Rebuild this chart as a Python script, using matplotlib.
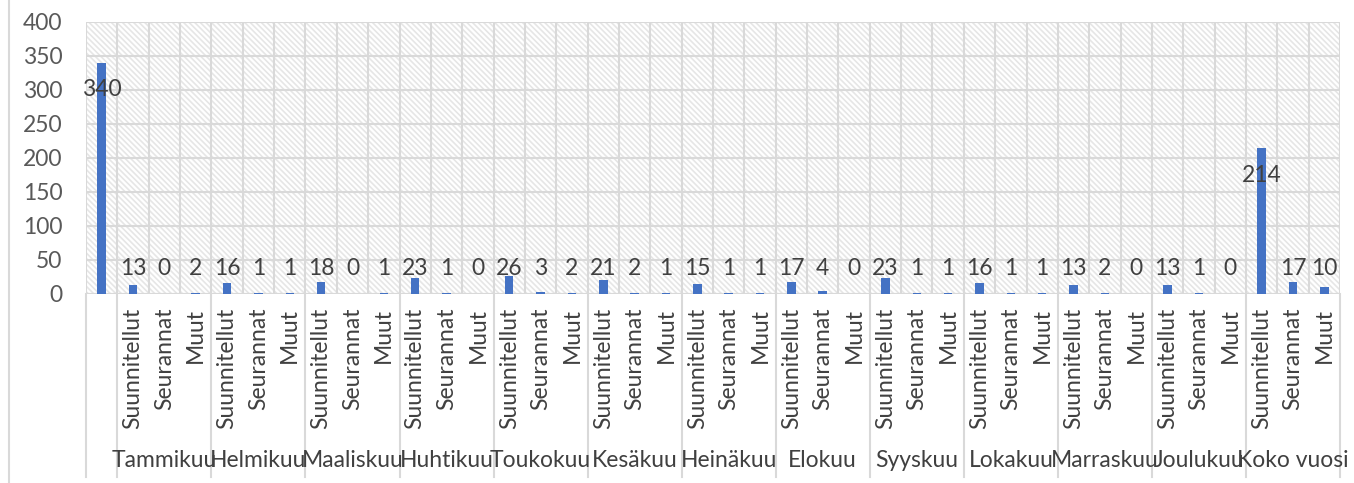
import numpy as np
import matplotlib.pyplot as plt
from matplotlib.patches import Rectangle
from matplotlib.lines import Line2D
from matplotlib.transforms import blended_transform_factory

# Data
first_value = 340
months = ['Tammikuu', 'Helmikuu', 'Maaliskuu', 'Huhtikuu', 'Toukokuu', 'Kesäkuu',
          'Heinäkuu', 'Elokuu', 'Syyskuu', 'Lokakuu', 'Marraskuu', 'Joulukuu', 'Koko vuosi']
sub_labels = ['Suunnitellut', 'Seurannat', 'Muut']
suunnitellut = [13, 16, 18, 23, 26, 21, 15, 17, 23, 16, 13, 13, 214]
seurannat = [0, 1, 0, 1, 3, 2, 1, 4, 1, 1, 2, 1, 17]
muut = [2, 1, 1, 0, 2, 1, 1, 0, 1, 1, 0, 0, 10]

# Build flat category list: first unnamed category + month x (3 sub categories)
values = [first_value]
cat_labels = ['']
for s, se, m in zip(suunnitellut, seurannat, muut):
    values += [s, se, m]
    cat_labels += sub_labels
values = np.array(values)
x = np.arange(len(values))

plt.rcParams['font.family'] = ['Lato', 'DejaVu Sans']
plt.rcParams['hatch.linewidth'] = 1.2
plt.rcParams['hatch.color'] = '#e6e6e6'

W, H = 1354, 483
fig = plt.figure(figsize=(W / 100, H / 100), dpi=100)
ax = fig.add_axes([86 / W, 1 - 294 / H, (1340 - 86) / W, (294 - 22) / H])

grid_c = '#d9d9d9'
txt_c = '#404040'
fs = 16.5

# hatched plot background
ax.add_patch(Rectangle((0, 0), 1, 1, transform=ax.transAxes, facecolor='white',
                       edgecolor='#e6e6e6', hatch='\\' * 6, lw=0, zorder=0.1))

ax.bar(x, values, width=0.27, color='#4472C4', zorder=3)

ax.set_xlim(-0.5, len(values) - 0.5)
ax.set_ylim(0, 400)
ax.set_yticks(np.arange(0, 401, 50))
ax.set_xticks(x)
ax.set_xticklabels(cat_labels, rotation=90, va='top', ha='center')
ax.set_xticks(np.arange(-0.5, len(values), 1), minor=True)
ax.tick_params(axis='x', which='both', length=0, pad=10, labelsize=fs, labelcolor=txt_c)
ax.tick_params(axis='y', length=0, pad=17, labelsize=fs, labelcolor='#595959')
ax.grid(axis='y', color=grid_c, lw=1.5)
ax.grid(axis='x', which='minor', color=grid_c, lw=1.5)
ax.set_axisbelow(True)
for sp in ax.spines.values():
    sp.set_visible(False)
ax.axhline(0, color=grid_c, lw=1.5, zorder=2)

# value labels
for xi, v in zip(x, values):
    ly = v - 40 if v > 100 else 37
    ax.text(xi, ly, str(v), ha='center', va='center', fontsize=fs, color=txt_c, zorder=4)

# group separators and month labels below the axis
trans = blended_transform_factory(ax.transData, ax.transAxes)
bounds = [-0.5] + [0.5 + 3 * i for i in range(len(months) + 1)]
for b in bounds:
    ax.plot([b, b], [0, -0.673], color=grid_c, lw=1.5, transform=trans, clip_on=False)
for i, mname in enumerate(months):
    ax.text(2 + 3 * i, -0.612, mname, ha='center', va='center', fontsize=fs,
            color=txt_c, transform=trans, clip_on=False)

# chart frame left edge
fig.add_artist(Line2D([9 / W, 9 / W], [0, 1], color=grid_c, lw=1.5, transform=fig.transFigure))

fig.savefig('out.png', dpi=100)
